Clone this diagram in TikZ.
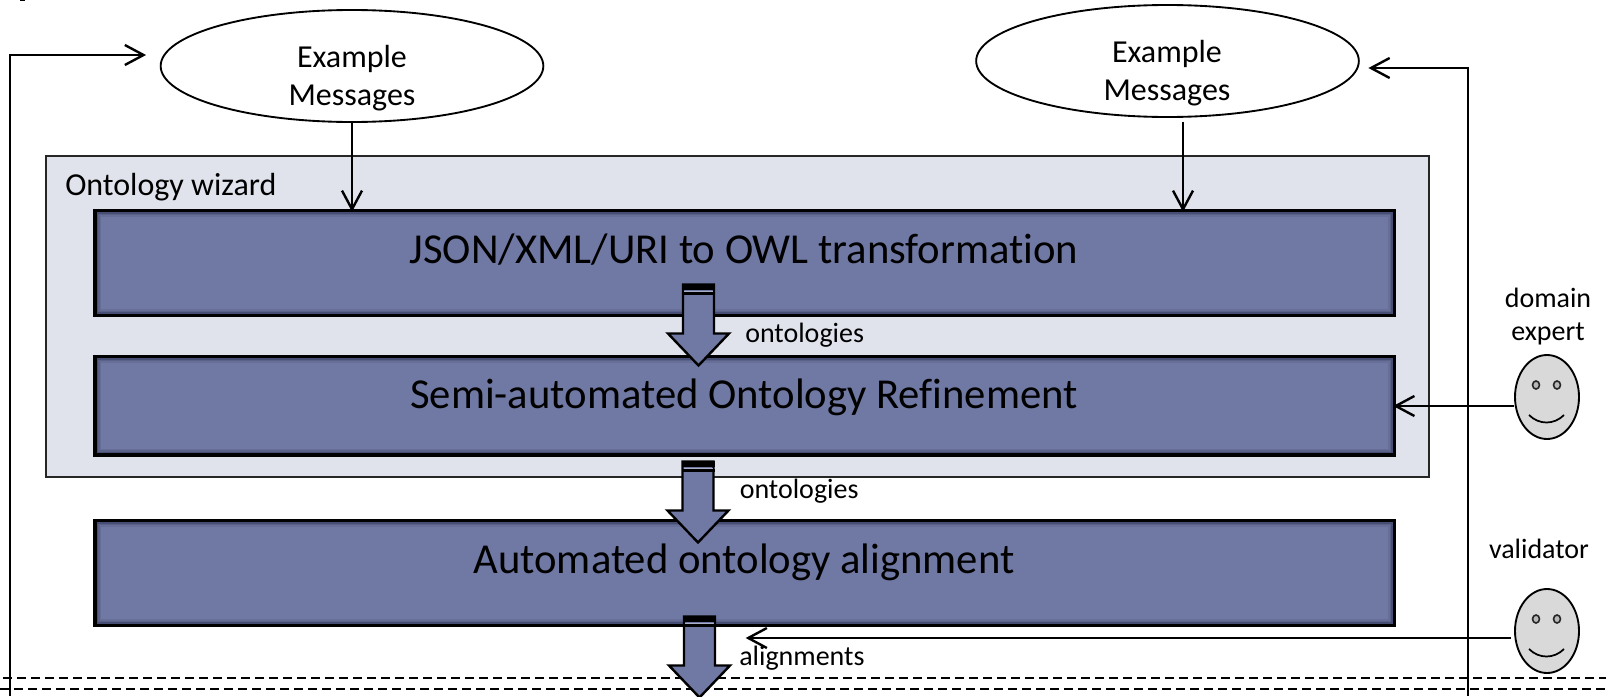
\documentclass[tikz,border=0pt]{standalone}
\usepackage{fontspec}
\setmainfont[RawFeature={-liga;-calt;-clig}]{Carlito}
\usetikzlibrary{arrows.meta,shapes.geometric,calc}
\definecolor{boxblue}{HTML}{7079A3}
\definecolor{boxedge}{HTML}{474E73}
\definecolor{boxedgeb}{HTML}{5A628A}
\definecolor{boxedgec}{HTML}{676F99}
\definecolor{wizardfill}{HTML}{E0E3EC}
\definecolor{facefill}{HTML}{D9D9D9}
\tikzset{
  px/.style={x=0.75pt,y=-0.75pt},
  wizardbox/.style={draw=black!85,line width=1.3pt,fill=wizardfill,rectangle,inner sep=0pt,anchor=north west},
  stagebox/.style={fill=boxblue,rectangle,inner sep=0pt,anchor=north west},
  msgellipse/.style={draw=black,fill=white,line width=1.4pt,ellipse,inner sep=0pt,minimum width=287pt,minimum height=84pt},
  face/.style={draw=black,fill=facefill,line width=1.4pt,ellipse,inner sep=0pt,minimum width=48pt,minimum height=63pt},
  bigtxt/.style={font=\fontsize{32}{38}\selectfont,anchor=base,inner sep=0pt,text=black},
  midtxt/.style={font=\fontsize{24}{28}\selectfont,anchor=base,inner sep=0pt,text=black},
  sidetxt/.style={font=\fontsize{21}{25}\selectfont,anchor=base,inner sep=0pt,text=black},
  smalltxt/.style={font=\fontsize{21}{25}\selectfont,anchor=base west,inner sep=0pt,text=black},
  link/.style={draw=black,line width=1.8pt,shorten >=-1pt,-{Straight Barb[length=14pt,width=15pt,line width=1.8pt]}},
  block/.style={draw=black,fill=boxblue,line width=1.8pt,line join=miter},
  dashline/.style={draw=black,line width=1.3pt,dash pattern=on 6.5pt off 4pt}
}
% x0 y0 x1 y1 : stage box edge, with inner shadow
\newcommand{\stageedge}[4]{%
  \draw[boxedgec,line width=1.2pt] (#1+5.5,#2+5.5) rectangle (#3-5.5,#4-5.5);
  \draw[boxedgeb,line width=1.2pt] (#1+4,#2+4) rectangle (#3-4,#4-4);
  \draw[boxedge,line width=1.2pt] (#1+2.5,#2+2.5) rectangle (#3-2.5,#4-2.5);
  \draw[black,line width=2.5pt] (#1,#2) rectangle (#3,#4);
}
% x-centre, y-top : block arrow
\newcommand{\blockarrow}[2]{%
  \begin{scope}[shift={(#1,#2)}]
    \draw[block] (-15.5,0) -- (15.5,0) -- (15.5,49) -- (30.5,49) -- (0,81) -- (-30.5,49) -- (-15.5,49) -- cycle;
    \fill[black] (-16.5,-1) rectangle (16.5,5.5);
    \draw[boxblue!60!white,line width=0.9pt] (-14.5,6.6) -- (14.5,6.6);
    \fill[black] (-16.5,7.8) rectangle (16.5,10);
  \end{scope}
}
\newcommand{\facefeatures}[2]{%
  \begin{scope}[shift={(#1,#2)}]
    \draw[black!85,fill=facefill!85!black,line width=1.2pt] (-11,-4) ellipse (2.6pt and 3pt);
    \draw[black!85,fill=facefill!85!black,line width=1.2pt] (10,-4) ellipse (2.6pt and 3pt);
    \draw[black,line width=1.3pt] (-18,26) .. controls (-8,36) and (7,36) .. (17,26);
  \end{scope}
}
\begin{document}
\begin{tikzpicture}[px]
\clip (0,0) rectangle (1606,696);
\fill[white] (0,0) rectangle (1606,696);
\fill[black] (20,0) rectangle (25,1);

% dashed lines
\coordinate (d1a) at (3,678); \coordinate (d1b) at (1606,678);
\coordinate (d2a) at (0,689); \coordinate (d2b) at (1606,689);
\draw[dashline] (d1a) -- (d1b);
\draw[dashline] (d2a) -- (d2b);

% ontology wizard frame
\node[wizardbox,minimum width=1037.5pt,minimum height=240.75pt] (wizard) at (45,155) {};
\node[anchor=base west,inner sep=0pt,font=\fontsize{24}{28}\selectfont,text=black] (wizardlabel) at (65,195.5) {Ontology wizard};

% stage boxes
\node[stagebox,minimum width=974.25pt,minimum height=78.75pt] (json) at (95,210.5) {};
\stageedge{95}{210.5}{1394.5}{315.5}
\node[bigtxt] (jsonlabel) at (744,263.5) {JSON/XML/URI to OWL transformation};
\node[stagebox,minimum width=974.25pt,minimum height=74.25pt] (refine) at (95,356.5) {};
\stageedge{95}{356.5}{1394.5}{455}
\node[bigtxt] (refinelabel) at (744,408) {Semi-automated Ontology Refinement};
\node[stagebox,minimum width=974.25pt,minimum height=78.75pt] (align) at (95,520.5) {};
\stageedge{95}{520.5}{1394.5}{625.5}
\node[bigtxt] (alignlabel) at (744,573) {Automated ontology alignment};

% ellipses
\node[msgellipse] (msgL) at (352,66) {};
\node[msgellipse] (msgR) at (1167.5,61) {};
\node[midtxt] (msgLa) at (352,67) {Example};
\node[midtxt] (msgLb) at (352,105) {Messages};
\node[midtxt] (msgRa) at (1167,62) {Example};
\node[midtxt] (msgRb) at (1167,100) {Messages};

% connectors from ellipses
\coordinate (msgRout) at (1183,122);
\coordinate (msgLout) at (352,122);
\draw[link] (msgLout) -- (msgLout |- json.north);
\draw[link] (msgRout) -- (msgRout |- json.north);

% feedback lines
\coordinate (fbLstart) at (10,696);
\coordinate (fbRstart) at (1468,696);
\coordinate (fbLtip) at ([xshift=-11.25pt]msgL.west |- 0,55);
\coordinate (fbRtip) at ([xshift=7.5pt]msgR.east |- 0,68);
\draw[link] (fbLstart) -- (fbLstart |- fbLtip) -- (fbLtip);
\draw[link] (fbRstart) -- (fbRstart |- fbRtip) -- (fbRtip);

% block arrows
\blockarrow{698.5}{284.5}
\blockarrow{698}{461.5}
\blockarrow{699.5}{616.5}
\node[smalltxt] (ont1) at (745,342) {ontologies};
\node[smalltxt] (ont2) at (739.5,498.5) {ontologies};
\node[smalltxt] (algn) at (739,665.5) {alignments};

% faces
\node[face] (expert) at (1547,397) {};
\facefeatures{1547}{389}
\node[sidetxt] (domA) at (1548,307) {domain};
\node[sidetxt] (domB) at (1548,340) {expert};
\node[face] (validator) at (1547,631) {};
\facefeatures{1547}{623}
\node[sidetxt] (valA) at (1539,558.5) {validator};

\coordinate (exptfrom) at (expert.west |- 0,406);
\draw[link] (exptfrom) -- (exptfrom -| refine.east);
\coordinate (valfrom) at (1511,638);
\coordinate (valto) at (747,638);
\draw[link] (valfrom) -- (valto);
\end{tikzpicture}
\end{document}
